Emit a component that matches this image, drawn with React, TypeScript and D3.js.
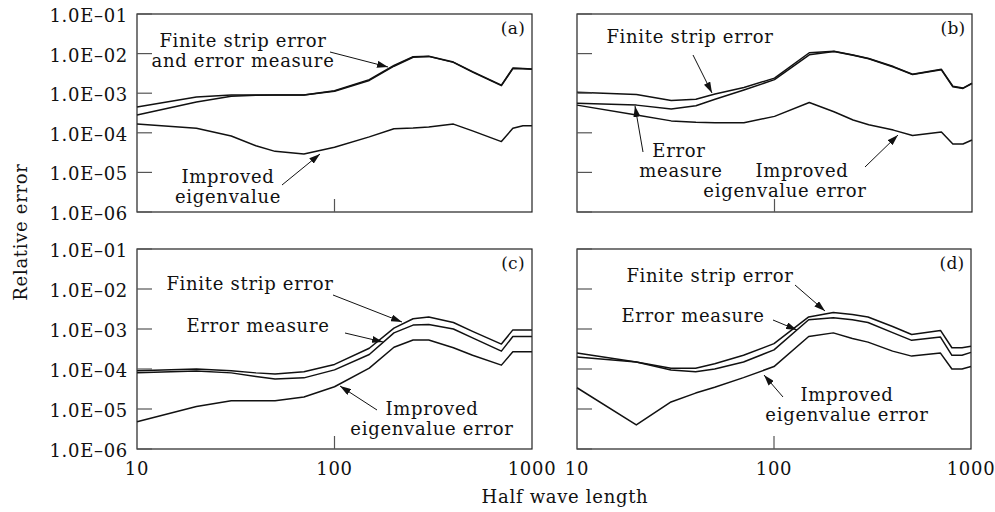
import React from "react";
import * as d3 from "d3";

// half wave length sample points shared by every curve
const halfWave = [10, 20, 30, 40, 50, 70, 100, 150, 200, 250, 300, 400, 500, 700, 800, 900, 1000];

const aFinite = [4.5e-4, 8e-4, 9e-4, 9e-4, 9e-4, 9e-4, 1.15e-3, 2.2e-3, 5e-3, 8.3e-3, 8.6e-3, 6.1e-3, 3.5e-3, 1.6e-3, 4.3e-3, 4.2e-3, 4.1e-3];
const aMeasure = [2.8e-4, 6e-4, 8.4e-4, 8.9e-4, 9e-4, 9e-4, 1.12e-3, 2.1e-3, 4.8e-3, 8.1e-3, 8.5e-3, 6e-3, 3.4e-3, 1.55e-3, 4.2e-3, 4.15e-3, 4.05e-3];
const aImproved = [1.66e-4, 1.3e-4, 8.3e-5, 4.7e-5, 3.4e-5, 2.9e-5, 4.3e-5, 7.9e-5, 1.26e-4, 1.32e-4, 1.4e-4, 1.66e-4, 1.12e-4, 6e-5, 1.3e-4, 1.5e-4, 1.5e-4];

const bFinite = [1.05e-3, 9.3e-4, 6.5e-4, 7e-4, 9.5e-4, 1.4e-3, 2.4e-3, 1.05e-2, 1.15e-2, 9.2e-3, 7.5e-3, 4.7e-3, 3e-3, 4e-3, 1.5e-3, 1.35e-3, 1.8e-3];
const bMeasure = [5.6e-4, 5e-4, 4e-4, 4.8e-4, 7e-4, 1.2e-3, 2.2e-3, 9.3e-3, 1.13e-2, 9.1e-3, 7.4e-3, 4.6e-3, 2.95e-3, 3.9e-3, 1.45e-3, 1.32e-3, 1.75e-3];
const bImproved = [5e-4, 2.8e-4, 2e-4, 1.85e-4, 1.8e-4, 1.8e-4, 2.6e-4, 5.8e-4, 3.4e-4, 2.1e-4, 1.6e-4, 1.17e-4, 8.5e-5, 1.05e-4, 5.2e-5, 5.2e-5, 6.6e-5];

const cFinite = [9.1e-5, 1e-4, 9e-5, 8e-5, 7.5e-5, 8.5e-5, 1.3e-4, 3.3e-4, 1.05e-3, 1.8e-3, 2e-3, 1.45e-3, 8.7e-4, 4.2e-4, 9.5e-4, 9.5e-4, 9.5e-4];
const cMeasure = [8.1e-5, 8.9e-5, 8e-5, 6.5e-5, 5.6e-5, 6e-5, 9.5e-5, 2.3e-4, 8e-4, 1.25e-3, 1.3e-3, 1e-3, 6e-4, 2.8e-4, 6.5e-4, 6.5e-4, 6.5e-4];
const cImproved = [4.8e-6, 1.15e-5, 1.6e-5, 1.6e-5, 1.6e-5, 2e-5, 3.6e-5, 1.05e-4, 3.5e-4, 5.3e-4, 5.3e-4, 3.4e-4, 2.2e-4, 1.25e-4, 2.7e-4, 2.7e-4, 2.7e-4];

const dFinite = [2.5e-4, 1.5e-4, 1.05e-4, 1.05e-4, 1.35e-4, 2.2e-4, 4.3e-4, 2e-3, 2.6e-3, 2.3e-3, 2e-3, 1.15e-3, 7.3e-4, 9.2e-4, 3.4e-4, 3.4e-4, 3.7e-4];
const dMeasure = [2e-4, 1.5e-4, 9.4e-5, 8.5e-5, 1e-4, 1.5e-4, 3e-4, 1.7e-3, 1.9e-3, 1.7e-3, 1.45e-3, 8.1e-4, 5.2e-4, 6.3e-4, 2.2e-4, 2.2e-4, 2.6e-4];
const dImproved = [3.4e-5, 4e-6, 1.5e-5, 2.5e-5, 3.5e-5, 6.1e-5, 1.15e-4, 6.5e-4, 8e-4, 5.8e-4, 4.7e-4, 2.8e-4, 2.1e-4, 2.5e-4, 1e-4, 1e-4, 1.15e-4];

const yTicks = [1e-1, 1e-2, 1e-3, 1e-4, 1e-5, 1e-6];
const yTickLabels = ["1.0E\u201301", "1.0E\u201302", "1.0E\u201303", "1.0E\u201304", "1.0E\u201305", "1.0E\u201306"];
const xTicks = [10, 100, 1000];
const xTickLabels = ["10", "100", "1000"];

const FONT = "DejaVu Serif";
const textStyle = { fontSize: 18, fontFamily: FONT, fill: "#111", letterSpacing: 0.7 };

type Note = { lines: string[]; x: number[]; y: number; arrow?: [number, number, number, number] };

const panels = [
  {
    tag: "(a)", left: 137, top: 14, width: 395, height: 198, yLabels: true, xLabels: false,
    series: [aFinite, aMeasure, aImproved],
    notes: [
      { lines: ["Finite strip error", "and error measure"], x: [106, 106], y: 33, arrow: [193, 38, 251, 53] },
      { lines: ["Improved", "eigenvalue"], x: [91, 91], y: 169, arrow: [145, 171, 183, 140] },
    ] as Note[],
  },
  {
    tag: "(b)", left: 577, top: 14, width: 395, height: 198, yLabels: false, xLabels: false,
    series: [bFinite, bMeasure, bImproved],
    notes: [
      { lines: ["Finite strip error"], x: [113], y: 29, arrow: [116, 41, 135, 79] },
      { lines: ["Error", "measure"], x: [102, 104], y: 143, arrow: [66, 138, 58, 92] },
      { lines: ["Improved", "eigenvalue error"], x: [225, 208], y: 163, arrow: [288, 153, 321, 121] },
    ] as Note[],
  },
  {
    tag: "(c)", left: 137, top: 249, width: 395, height: 200, yLabels: true, xLabels: true,
    series: [cFinite, cMeasure, cImproved],
    notes: [
      { lines: ["Finite strip error"], x: [113], y: 41, arrow: [196, 46, 265, 73] },
      { lines: ["Error measure"], x: [121], y: 83, arrow: [208, 84, 246, 93] },
      { lines: ["Improved", "eigenvalue error"], x: [295, 295], y: 166, arrow: [240, 161, 203, 137] },
    ] as Note[],
  },
  {
    tag: "(d)", left: 577, top: 249, width: 394, height: 200, yLabels: false, xLabels: true,
    series: [dFinite, dMeasure, dImproved],
    notes: [
      { lines: ["Finite strip error"], x: [133], y: 33, arrow: [218, 36, 248, 62] },
      { lines: ["Error measure"], x: [116], y: 73, arrow: [196, 71, 220, 81] },
      { lines: ["Improved", "eigenvalue error"], x: [270, 270], y: 152, arrow: [206, 148, 187, 126] },
    ] as Note[],
  },
];

function Panel({ p }: { p: (typeof panels)[number] }) {
  const x = d3.scaleLog().domain([10, 1000]).range([0, p.width]);
  const y = d3.scaleLog().domain([1e-6, 1e-1]).range([p.height, 0]);
  const line = d3
    .line<number>()
    .x((_, i) => x(halfWave[i]))
    .y((d) => y(d));

  return (
    <g transform={`translate(${p.left},${p.top})`}>
      {p.series.map((s, i) => (
        <path key={i} d={line(s) || ""} fill="none" stroke="#111" strokeWidth={1.5} strokeLinejoin="round" />
      ))}
      <rect x={0} y={0} width={p.width} height={p.height} fill="none" stroke="#222" strokeWidth={1.2} />
      {yTicks.map((t, i) => (
        <g key={t}>
          <line x1={0} x2={15} y1={y(t)} y2={y(t)} stroke="#555" strokeWidth={1.2} />
          {p.yLabels && (
            <text x={-9} y={y(t) + 8} textAnchor="end" style={textStyle}>
              {yTickLabels[i]}
            </text>
          )}
        </g>
      ))}
      <line x1={x(100)} x2={x(100)} y1={p.height} y2={p.height - 13} stroke="#555" strokeWidth={1.2} />
      {p.xLabels &&
        xTicks.map((t, i) => (
          <text key={t} x={x(t)} y={p.height + 26} textAnchor="middle" style={textStyle}>
            {xTickLabels[i]}
          </text>
        ))}
      <text x={p.width - 19} y={20} textAnchor="middle" style={{ ...textStyle, fontSize: 17, letterSpacing: 0.3 }}>
        {p.tag}
      </text>
      {p.notes.map((n, i) => (
        <g key={i}>
          {n.lines.map((l, j) => (
            <text key={j} x={n.x[j]} y={n.y + j * 20} textAnchor="middle" style={textStyle}>
              {l}
            </text>
          ))}
          {n.arrow && (
            <line
              x1={n.arrow[0]} y1={n.arrow[1]} x2={n.arrow[2]} y2={n.arrow[3]}
              stroke="#111" strokeWidth={1} markerEnd="url(#head)"
            />
          )}
        </g>
      ))}
    </g>
  );
}

export default function App() {
  return (
    <svg width={995} height={512} style={{ position: "absolute", left: 0, top: 0, background: "#fff" }}>
      <defs>
        <marker id="head" viewBox="0 0 11 7" refX={11} refY={3.5} markerWidth={11} markerHeight={7}
          markerUnits="userSpaceOnUse" orient="auto">
          <path d="M0,0 L11,3.5 L0,7 Z" fill="#111" />
        </marker>
      </defs>
      {panels.map((p) => (
        <Panel key={p.tag} p={p} />
      ))}
      <text transform="translate(27,232) rotate(-90)" textAnchor="middle" style={textStyle}>
        Relative error
      </text>
      <text x={565} y={503} textAnchor="middle" style={textStyle}>
        Half wave length
      </text>
    </svg>
  );
}
